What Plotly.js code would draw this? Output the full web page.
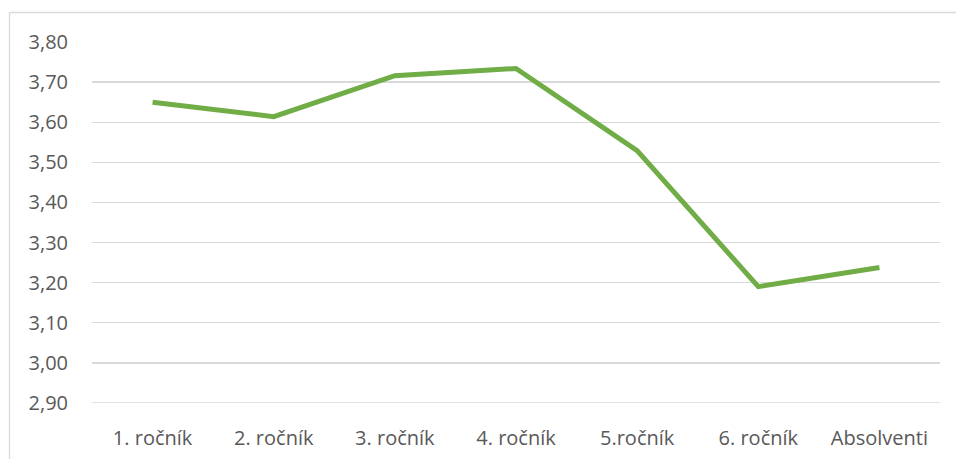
<!DOCTYPE html>
<html>
<head>
<meta charset="utf-8">
<script src="https://cdn.plot.ly/plotly-3.0.1.min.js"></script>
<style>
html,body{margin:0;padding:0;background:#fff;}
#chart{width:956px;height:459px;}
</style>
</head>
<body>
<div id="chart"></div>
<script>
const categories = ["1. ročník", "2. ročník", "3. ročník", "4. ročník", "5.ročník", "6. ročník", "Absolventi"];
const values = [3.65, 3.614, 3.716, 3.734, 3.529, 3.19, 3.238];
const yTickVals = [2.9, 3.0, 3.1, 3.2, 3.3, 3.4, 3.5, 3.6, 3.7, 3.8];
const yTickText = ["2,90", "3,00", "3,10", "3,20", "3,30", "3,40", "3,50", "3,60", "3,70", "3,80"];
const yMin = 2.9, yMax = 3.8;

const trace = {
  x: categories,
  y: values,
  type: "scatter",
  mode: "lines",
  line: {color: "#70AD47", width: 5},
  hoverinfo: "skip"
};

const L = 92, T = 42, W = 848, H = 361;
function px(x){ return (x - L) / W; }
function py(y){ return (T + H - y) / H; }

const layout = {
  width: 956, height: 459,
  margin: {l: L, r: 956 - L - W, t: T, b: 459 - T - H, pad: 0},
  paper_bgcolor: "#ffffff",
  plot_bgcolor: "#ffffff",
  showlegend: false,
  font: {family: "Open Sans, sans-serif", size: 20, color: "#595959"},
  xaxis: {
    type: "category",
    range: [-0.5, 6.5],
    showgrid: false,
    zeroline: false,
    showline: false,
    ticks: "",
    ticklabelstandoff: 21,
    tickfont: {size: 20, color: "#595959"},
    fixedrange: true
  },
  yaxis: {
    range: [yMin, yMax],
    tickvals: yTickVals,
    ticktext: yTickText,
    showgrid: true,
    gridcolor: "#d9d9d9",
    gridwidth: 1.3,
    zeroline: false,
    showline: false,
    ticks: "",
    ticklabelstandoff: 23,
    tickfont: {size: 20, color: "#595959"},
    fixedrange: true
  },
  shapes: [
    {type: "line", layer: "below", xref: "paper", yref: "y", x0: 0, x1: 1, y0: yMin, y1: yMin, line: {color: "#d9d9d9", width: 1.3}},
    {type: "line", xref: "paper", yref: "paper", x0: px(9.5), x1: px(9.5), y0: py(470), y1: py(12.5), line: {color: "#d9d9d9", width: 1.3}},
    {type: "line", xref: "paper", yref: "paper", x0: px(9.5), x1: px(970), y0: py(12.5), y1: py(12.5), line: {color: "#d9d9d9", width: 1.3}}
  ]
};

Plotly.newPlot("chart", [trace], layout, {displayModeBar: false, staticPlot: true});
</script>
</body>
</html>
